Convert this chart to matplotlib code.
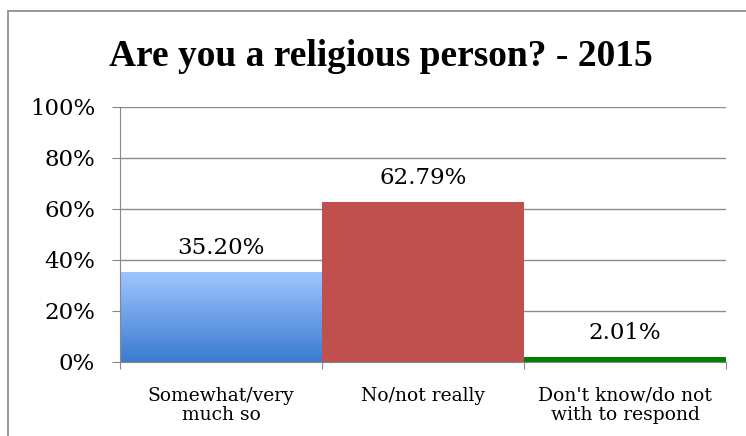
import numpy as np
import matplotlib.pyplot as plt
from matplotlib.patches import Rectangle
from matplotlib.colors import LinearSegmentedColormap

categories = ["Somewhat/very\nmuch so", "No/not really", "Don't know/do not\nwith to respond"]
values = [35.20, 62.79, 2.01]
colors = ["#5b95e0", "#C0504D", "#008000"]
yticks = [0, 20, 40, 60, 80, 100]

plt.rcParams['font.family'] = ['DejaVu Serif']

fig = plt.figure(figsize=(7.46, 4.36), dpi=100)
ax = fig.add_axes([120/746, 1 - 361.7/436, 606/746, 255/436])

x = np.arange(len(values))
bars = ax.bar(x, values, width=1.0, color=colors, zorder=2)

# gradient on first bar
b = bars[0]
grad = np.linspace(0, 1, 256).reshape(-1, 1)
cmap = LinearSegmentedColormap.from_list("g", ["#3a7bd0", "#9fc5ff"])
im = ax.imshow(grad, cmap=cmap, aspect='auto', origin='lower', zorder=3,
               extent=[b.get_x(), b.get_x() + b.get_width(), 0, b.get_height()])
im.set_clip_path(b)

ax.set_xlim(-0.5, 2.5)
ax.set_ylim(0, 100)
ax.set_yticks(yticks)
ax.set_yticklabels([f"{t}%" for t in yticks], fontsize=16.5)
ax.set_xticks([-0.5, 0.5, 1.5, 2.5])
ax.set_xticklabels([])
ax.set_xticks(x, minor=True)
ax.set_xticklabels(categories, minor=True, fontsize=13.5, linespacing=1.1)
ax.tick_params(axis='x', which='minor', length=0, pad=18)
ax.tick_params(axis='x', which='major', length=5, color='#888888')
ax.tick_params(axis='y', length=6, color='#888888', pad=12)
ax.grid(axis='y', color='#8c8c8c', linewidth=1, zorder=0)
for s in ['top', 'right']:
    ax.spines[s].set_visible(False)
for s in ['left', 'bottom']:
    ax.spines[s].set_color('#888888')
    ax.spines[s].set_zorder(4)

for xi, v in zip(x, values):
    ax.annotate(f"{v:.2f}%", (xi, v), xytext=(0, 9), textcoords='offset points',
                ha='center', va='bottom', fontsize=16.5, zorder=5)

fig.text(381/746, 1 - 56/436, "Are you a religious person? - 2015", ha='center', va='center',
         fontsize=27, fontweight='bold', family=['Liberation Serif'])

fig.patches.append(Rectangle((8/746, -0.1), 1.2, 1 - 11/436 + 0.1, transform=fig.transFigure,
                             fill=False, edgecolor='#888888', linewidth=1.2))

fig.savefig("out.png", dpi=100)
